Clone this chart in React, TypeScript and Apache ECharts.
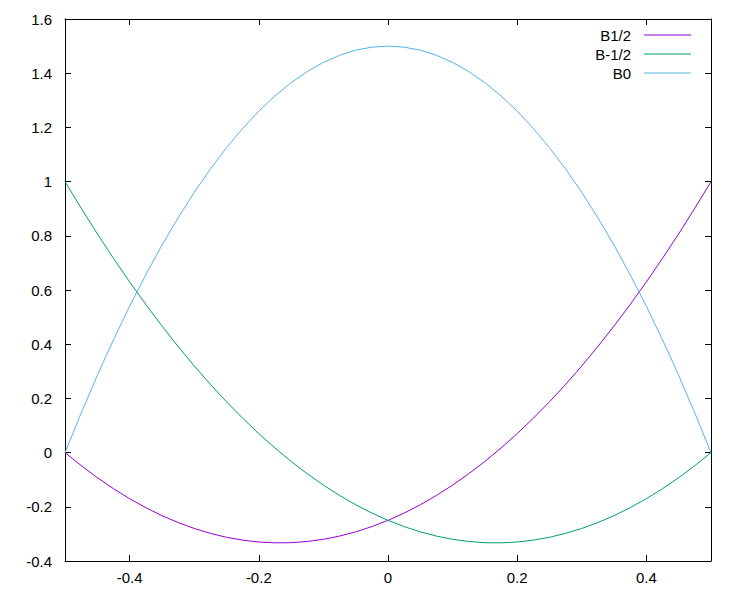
import React, { useEffect, useRef } from "react";
import * as echarts from "echarts";

const xValues = [
  -0.5, -0.475, -0.45, -0.425, -0.4, -0.375, -0.35, -0.325, -0.3, -0.275, -0.25,
  -0.225, -0.2, -0.175, -0.15, -0.125, -0.1, -0.075, -0.05, -0.025, 0,
  0.025, 0.05, 0.075, 0.1, 0.125, 0.15, 0.175, 0.2, 0.225, 0.25,
  0.275, 0.3, 0.325, 0.35, 0.375, 0.4, 0.425, 0.45, 0.475, 0.5,
];

const bHalf = [
  0, -0.048, -0.0925, -0.133, -0.17, -0.203, -0.2325, -0.258, -0.28, -0.298, -0.3125,
  -0.323, -0.33, -0.333, -0.3325, -0.328, -0.32, -0.308, -0.2925, -0.273, -0.25,
  -0.223, -0.1925, -0.158, -0.12, -0.078, -0.0325, 0.017, 0.07, 0.127, 0.1875,
  0.252, 0.32, 0.392, 0.4675, 0.547, 0.63, 0.717, 0.8075, 0.902, 1,
];

const bMinusHalf = [
  1, 0.902, 0.8075, 0.717, 0.63, 0.547, 0.4675, 0.392, 0.32, 0.252, 0.1875,
  0.127, 0.07, 0.017, -0.0325, -0.078, -0.12, -0.158, -0.1925, -0.223, -0.25,
  -0.273, -0.2925, -0.308, -0.32, -0.328, -0.3325, -0.333, -0.33, -0.323, -0.3125,
  -0.298, -0.28, -0.258, -0.2325, -0.203, -0.17, -0.133, -0.0925, -0.048, 0,
];

const bZero = [
  0, 0.146, 0.285, 0.416, 0.54, 0.656, 0.765, 0.866, 0.96, 1.046, 1.125,
  1.196, 1.26, 1.316, 1.365, 1.406, 1.44, 1.466, 1.485, 1.496, 1.5,
  1.496, 1.485, 1.466, 1.44, 1.406, 1.365, 1.316, 1.26, 1.196, 1.125,
  1.046, 0.96, 0.866, 0.765, 0.656, 0.54, 0.416, 0.285, 0.146, 0,
];

const xTicks = [-0.4, -0.2, 0, 0.2, 0.4];
const seriesNames = ["B1/2", "B-1/2", "B0"];
const seriesColors = ["#9400d3", "#009e73", "#56b4e9"];

const FONT = "'Liberation Sans', Arial, sans-serif";

export default function App() {
  const ref = useRef<HTMLDivElement>(null);

  useEffect(() => {
    if (!ref.current) return;
    const chart = echarts.init(ref.current, undefined, { renderer: "svg" });
    const allData = [bHalf, bMinusHalf, bZero];

    const tickCommon = {
      show: true,
      inside: true,
      length: 6,
      lineStyle: { color: "#000", width: 1 },
    };
    const axisLineCommon = {
      show: true,
      onZero: false,
      lineStyle: { color: "#000", width: 1 },
    };

    const legendGraphics: any[] = [];
    seriesNames.forEach((name, i) => {
      const cy = 35 + i * 19;
      legendGraphics.push({
        type: "text",
        x: 631,
        y: cy,
        style: {
          text: name,
          textAlign: "right",
          textVerticalAlign: "middle",
          font: `15px ${FONT}`,
          fill: "#000",
        },
      });
      legendGraphics.push({
        type: "line",
        shape: { x1: 644, y1: cy, x2: 691, y2: cy },
        style: { stroke: seriesColors[i], lineWidth: 1 },
      });
    });

    chart.setOption({
      animation: false,
      backgroundColor: "#fff",
      grid: { left: 65, right: 39, top: 19, bottom: 39, containLabel: false },
      xAxis: [
        {
          type: "value",
          min: -0.5,
          max: 0.5,
          position: "bottom",
          axisLine: axisLineCommon,
          axisTick: { ...tickCommon, customValues: xTicks },
          axisLabel: {
            customValues: xTicks,
            margin: 9,
            fontSize: 15,
            fontFamily: FONT,
            color: "#000",
          },
          splitLine: { show: false },
        },
        {
          type: "value",
          min: -0.5,
          max: 0.5,
          position: "top",
          axisLine: axisLineCommon,
          axisTick: { ...tickCommon, customValues: xTicks },
          axisLabel: { show: false },
          splitLine: { show: false },
        },
      ],
      yAxis: [
        {
          type: "value",
          min: -0.4,
          max: 1.6,
          interval: 0.2,
          position: "left",
          axisLine: axisLineCommon,
          axisTick: tickCommon,
          axisLabel: {
            margin: 13,
            fontSize: 15,
            fontFamily: FONT,
            color: "#000",
          },
          splitLine: { show: false },
        },
        {
          type: "value",
          min: -0.4,
          max: 1.6,
          interval: 0.2,
          position: "right",
          axisLine: axisLineCommon,
          axisTick: tickCommon,
          axisLabel: { show: false },
          splitLine: { show: false },
        },
      ],
      series: seriesNames.map((name, i) => ({
        name,
        type: "line",
        xAxisIndex: 0,
        yAxisIndex: 0,
        showSymbol: false,
        smooth: false,
        lineStyle: { color: seriesColors[i], width: 1 },
        itemStyle: { color: seriesColors[i] },
        data: xValues.map((x, j) => [x, allData[i][j]]),
      })),
      graphic: legendGraphics,
    });

    return () => chart.dispose();
  }, []);

  return <div ref={ref} style={{ width: 750, height: 600, margin: -8 }} />;
}
